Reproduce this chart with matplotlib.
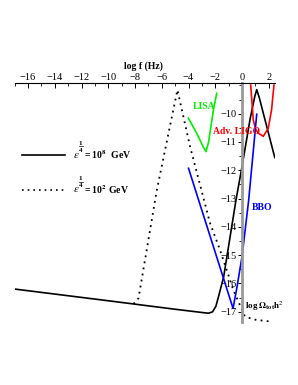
import numpy as np
import matplotlib
matplotlib.use('Agg')
import matplotlib.pyplot as plt
from matplotlib.lines import Line2D
from matplotlib.ticker import MultipleLocator, FixedLocator

plt.rcParams['font.family'] = ['Liberation Serif', 'DejaVu Serif']
plt.rcParams['mathtext.fontset'] = 'stix'

# epsilon^(1/4) = 10^8 GeV (solid)
x_hi = [-16.94, -10.0, -5.0, -2.9, -2.5, -2.2, -1.95, -1.75, -1.37, -0.45, 0.0, 0.6, 0.95, 1.1, 1.3, 2.45]
y_hi = [-16.20, -16.61, -16.91, -17.03, -17.05, -17.0, -16.8, -16.45, -15.76, -13.05, -11.87, -10.2, -9.4, -9.15, -9.45, -11.55]

# epsilon^(1/4) = 10^2 GeV (dotted)
x_lo = [-8.11, -7.74, -6.37, -4.83, -3.88, -2.39, -1.64, -0.65, 0.22, 1.0, 2.2]
y_lo = [-16.72, -16.52, -12.70, -9.16, -11.17, -13.87, -14.82, -16.23, -17.17, -17.28, -17.35]

# detector sensitivities
x_lisa = [-4.01, -3.39, -2.85, -2.69, -2.5, -2.14, -1.89]
y_lisa = [-10.16, -10.69, -11.22, -11.34, -11.0, -9.87, -9.28]

x_ligo = [0.65, 0.84, 1.02, 1.22, 1.59, 1.96, 2.21, 2.39]
y_ligo = [-8.99, -10.22, -10.55, -10.69, -10.8, -10.52, -9.87, -8.99]

x_bbo = [-4.0, -0.67, -0.37, 0.0, 0.5, 1.1]
y_bbo = [-11.93, -16.88, -16.11, -15.05, -13.05, -10.02]

x_major = [-16, -14, -12, -10, -8, -6, -4, -2, 0, 2]
y_major = [-17, -16, -15, -14, -13, -12, -11, -10]

legend_exp = ['8', '2']

W, H = 298, 385
def fx(px):
    return px / W
def fy(py):
    return 1 - py / H

fig = plt.figure(figsize=(2.98, 3.85), dpi=100)
ax = fig.add_axes([0.0493, 0.1644, 0.875, 0.619])
ax.set_xlim(-17, 2.5)
ax.set_ylim(-17.35, -8.93)

dots = (0, (1, 2.4))
ax.plot(x_hi, y_hi, color='black', lw=1.2)
ax.plot(x_lo, y_lo, color='black', lw=1.3, linestyle=dots)
ax.plot(x_lisa, y_lisa, color='#00ee00', lw=1.2)
ax.plot(x_ligo, y_ligo, color='red', lw=1.2)
ax.plot(x_bbo, y_bbo, color='blue', lw=1.2)

# axes in Maple style
for s in ['bottom', 'right']:
    ax.spines[s].set_visible(False)
ax.spines['top'].set_linewidth(0.8)
ax.spines['left'].set_position(('data', 0))
ax.spines['left'].set_color('#999999')
ax.spines['left'].set_linewidth(2)

ax.xaxis.set_ticks_position('top')
ax.xaxis.set_major_locator(FixedLocator(x_major))
ax.xaxis.set_minor_locator(MultipleLocator(1))
ax.tick_params(axis='x', which='major', direction='in', length=3.5, width=0.7, labelsize=7.5, pad=1)
ax.tick_params(axis='x', which='minor', direction='in', length=2, width=0.6)
ax.yaxis.set_major_locator(FixedLocator(y_major))
ax.yaxis.set_minor_locator(MultipleLocator(0.5))
ax.tick_params(axis='y', which='major', direction='out', length=3, width=0.7, labelsize=7.5, pad=1)
ax.tick_params(axis='y', which='minor', direction='out', length=2, width=0.6)

fig.text(0.483, 0.829, 'log f (Hz)', ha='center', va='center', fontsize=7, fontweight='bold')
ax.text(0.22, -16.8, r'log $\mathbf{\Omega_{tot}}$h$^2$', ha='left', va='center', fontsize=6.5, fontweight='bold')

ax.text(-2.84, -9.76, 'LISA', color='#00ee00', ha='center', va='center', fontsize=7, fontweight='bold')
ax.text(-0.41, -10.63, 'Adv. LIGO', color='red', ha='center', va='center', fontsize=7, fontweight='bold')
ax.text(1.5, -13.3, 'BBO', color='blue', ha='center', va='center', fontsize=7, fontweight='bold')

# legend, built by hand like the original
legend_styles = ['-', dots]
for i, (py, exp) in enumerate(zip([155, 190], legend_exp)):
    fig.add_artist(Line2D([fx(22), fx(65)], [fy(py), fy(py)], color='black', lw=1.2,
                          linestyle=legend_styles[i], transform=fig.transFigure))
    fig.text(fx(73), fy(py), r'$\varepsilon$', ha='left', va='center', fontsize=8)
    fig.text(fx(80.5), fy(py - 11.5), '1', ha='center', va='center', fontsize=5, fontweight='bold')
    fig.add_artist(Line2D([fx(78.5), fx(82.5)], [fy(py - 8.5), fy(py - 8.5)], color='black', lw=0.5,
                          transform=fig.transFigure))
    fig.text(fx(80.5), fy(py - 5), '4', ha='center', va='center', fontsize=5, fontweight='bold')
    gap = r'\ \ ' if i == 0 else r'\ '
    fig.text(fx(84), fy(py), r'= 10$^{\mathbf{' + exp + r'}}' + gap + r'$GeV', ha='left', va='center',
             fontsize=7, fontweight='bold')

fig.savefig('out.png', dpi=100)
